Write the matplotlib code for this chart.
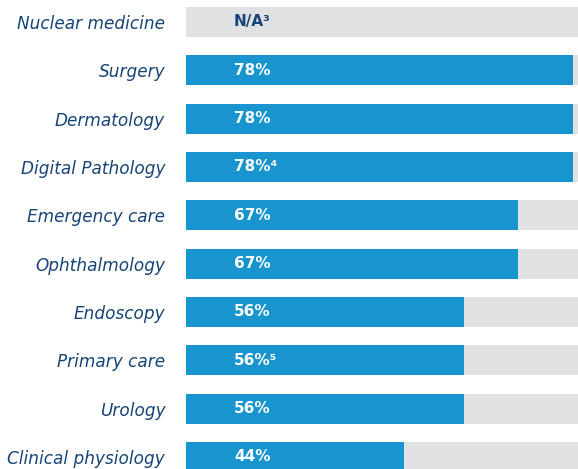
import matplotlib.pyplot as plt

categories = ["Nuclear medicine", "Surgery", "Dermatology", "Digital Pathology",
              "Emergency care", "Ophthalmology", "Endoscopy", "Primary care",
              "Urology", "Clinical physiology"]
values = [None, 78, 78, 78, 67, 67, 56, 56, 56, 44]
labels = ["N/A\u00b3", "78%", "78%", "78%\u2074", "67%", "67%", "56%", "56%\u2075", "56%", "44%"]

BLUE = "#1894cf"
GREY = "#e0e1e3"
NAVY = "#174478"

fig = plt.figure(figsize=(5.78, 4.69), dpi=100)
ax = fig.add_axes([186 / 578, 0, 1 - 186 / 578, 1])

ypos = list(range(len(categories)))
ax.barh(ypos, [100] * len(ypos), height=0.62, color=GREY, zorder=1)
ax.barh(ypos, [v if v is not None else 0 for v in values], height=0.62,
        color=BLUE, zorder=2)

for y, v, lab in zip(ypos, values, labels):
    ax.text(9.7, y, lab, va="center", ha="left", fontsize=11, fontweight="bold",
            color=NAVY if v is None else "white", zorder=3)

ax.set_xlim(0, 79.1)
ax.set_ylim(9.25, -0.455)
ax.set_yticks(ypos)
ax.set_yticklabels(categories, fontsize=12.2, style="italic", color=NAVY)
ax.tick_params(axis="y", length=0, pad=15)
ax.set_xticks([])
for s in ax.spines.values():
    s.set_visible(False)

fig.savefig("out.png", dpi=100)
